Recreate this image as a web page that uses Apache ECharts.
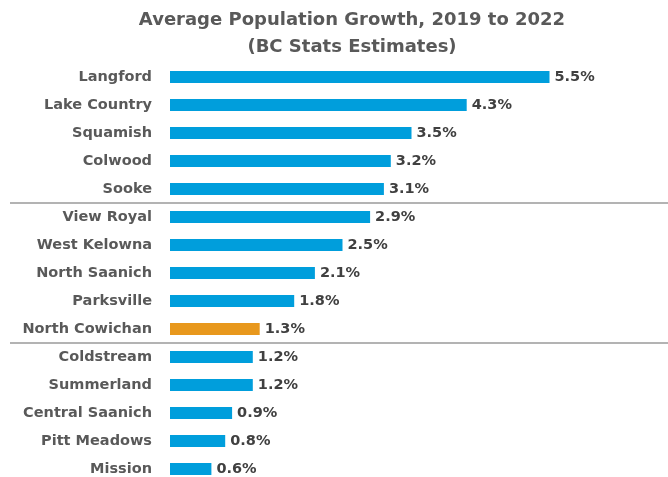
<!DOCTYPE html>
<html>
<head>
<meta charset="utf-8">
<script src="https://cdn.jsdelivr.net/npm/echarts@6/dist/echarts.min.js"></script>
<style>
html,body{margin:0;padding:0;background:#fff;overflow:hidden;}
#c{width:668px;height:490px;}
</style>
</head>
<body>
<div id="c"></div>
<script>
const titleText = 'Average Population Growth, 2019 to 2022\n(BC Stats Estimates)';
const categories = ['Langford','Lake Country','Squamish','Colwood','Sooke','View Royal','West Kelowna','North Saanich','Parksville','North Cowichan','Coldstream','Summerland','Central Saanich','Pitt Meadows','Mission'];
const growth = [5.5,4.3,3.5,3.2,3.1,2.9,2.5,2.1,1.8,1.3,1.2,1.2,0.9,0.8,0.6];
const highlighted = 'North Cowichan';
const separatorsAfter = ['Sooke','North Cowichan'];

const FONT = 'DejaVu Sans';
const chart = echarts.init(document.getElementById('c'));
chart.setOption({
  animation:false,
  title:{
    text:titleText, left:347, top:2, textAlign:'center',
    textStyle:{fontFamily:FONT,fontSize:18,fontWeight:'bold',color:'#595959',lineHeight:27}
  },
  grid:{left:170, top:63, width:414, height:420, containLabel:false},
  xAxis:{type:'value', min:0, max:6, show:false},
  yAxis:{
    type:'category', data:categories, inverse:true,
    axisLine:{show:false}, axisTick:{show:false}, splitLine:{show:false},
    axisLabel:{margin:18, fontFamily:FONT, fontSize:14.5, fontWeight:'bold', color:'#595959'}
  },
  series:[{
    type:'bar', barWidth:12,
    data:growth.map((v,i)=>({value:v, itemStyle:{color: categories[i]===highlighted ? '#E8981D' : '#009EDC'}})),
    label:{show:true, position:'right', distance:5, formatter:p=>p.value.toFixed(1)+'%',
      fontFamily:FONT, fontSize:14.5, fontWeight:'bold', color:'#404040'}
  }]
});
const lines = separatorsAfter.map(name=>{
  const i = categories.indexOf(name);
  const y = (chart.convertToPixel({yAxisIndex:0}, categories[i]) + chart.convertToPixel({yAxisIndex:0}, categories[i+1]))/2;
  return {type:'line', shape:{x1:10,y1:y,x2:668,y2:y}, style:{stroke:'#9a9a9a', lineWidth:1.5}};
});
chart.setOption({graphic:lines});
</script>
</body>
</html>
